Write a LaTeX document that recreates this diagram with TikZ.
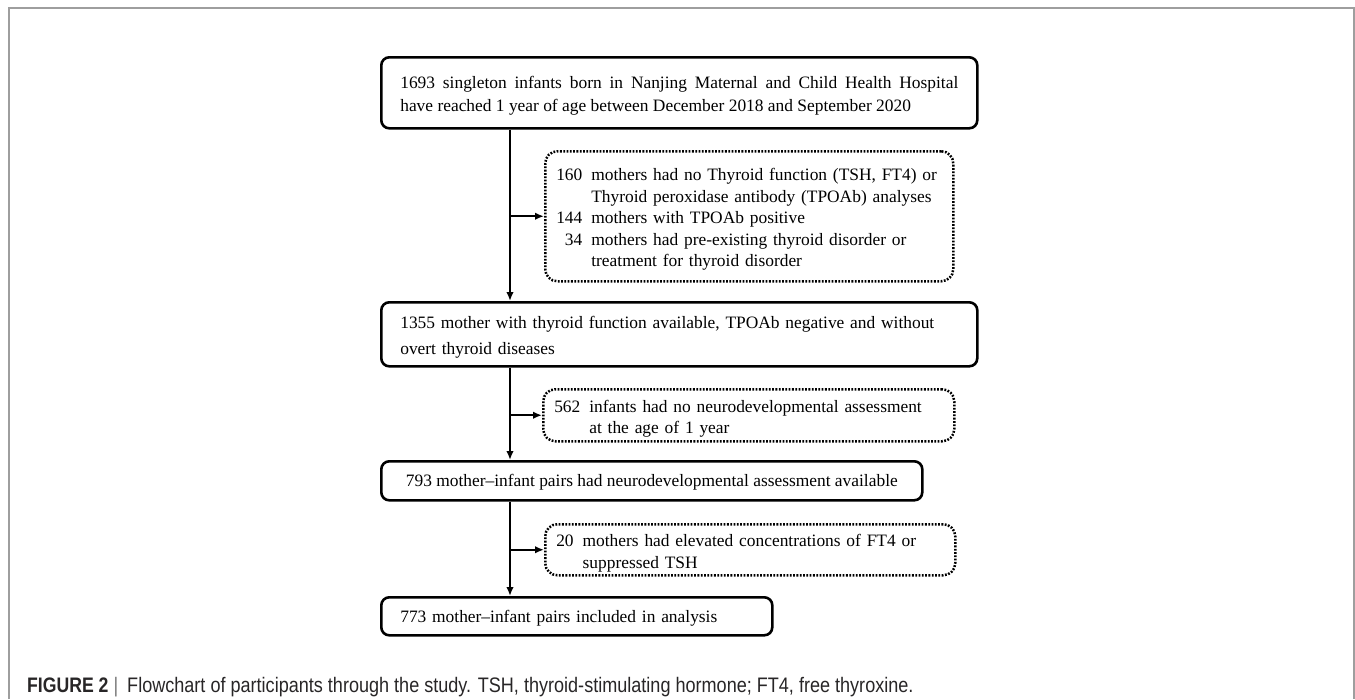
\documentclass[tikz,border=0pt]{standalone}
\usepackage{fontspec}
\setmainfont{Liberation Serif}
\newfontfamily\capfont[FakeStretch=0.86]{Liberation Sans}
\newfontfamily\capbold[FakeStretch=0.84]{Liberation Sans}
\usepackage{xcolor}
\usepackage{tikz}
\usetikzlibrary{positioning, calc, arrows.meta}
\definecolor{framegray}{RGB}{158,158,158}
\definecolor{captext}{RGB}{40,38,39}
\definecolor{bargray}{RGB}{120,120,120}
\newcommand{\topgap}[1]{\rule{0pt}{#1}}
\tikzset{
  stagebox/.style={draw, line width=2.6pt, rounded corners=8pt, anchor=north west,
    inner xsep=19pt, inner ysep=0pt, align=left, font=\fontsize{17.4}{26.7}\selectfont},
  exclbox/.style={draw, line width=2.5pt, dash pattern=on 1.8pt off 1.5pt, rounded corners=12pt,
    anchor=north west, inner xsep=11pt, inner ysep=0pt, align=left, font=\fontsize{17.4}{21.5}\selectfont},
  flow/.style={line width=2pt, ->, >={Latex[length=9pt, width=7.5pt]}}
}

\begin{document}
\begin{tikzpicture}[x=1pt, y=-1pt]
\useasboundingbox (0,0) rectangle (1355,699);
\draw[framegray, line width=1.3pt] (9,699) -- (9,8) -- (1354,8) -- (1354,699);

\coordinate (trunk) at (510,0);

\node[stagebox, text width=558pt, minimum height=71pt, align=justify,
      font=\fontsize{17.4}{23.5}\selectfont] (born) at (380,56)
  {\topgap{18pt}1693 singleton infants born in Nanjing Maternal and Child Health Hospital\linebreak
   have reached 1 year of age between December 2018 and September 2020};
\node[exclbox, text width=386pt, minimum height=130pt] (excl1) at (544,150)
  {\begin{tabular}{@{}r@{\hspace{9pt}}l@{}}
   \topgap{21.5pt}160 & mothers had no Thyroid function (TSH, FT4) or\\
       & Thyroid peroxidase antibody (TPOAb) analyses\\
   144 & mothers with TPOAb positive\\
   34  & mothers had pre-existing thyroid disorder or\\
       & treatment for thyroid disorder
   \end{tabular}};
\node[stagebox, text width=558pt, minimum height=64pt] (avail) at (380,301)
  {\topgap{18pt}1355 mother with thyroid function available, TPOAb negative and without\\
   overt thyroid diseases};
\node[exclbox, text width=389pt, minimum height=52pt] (excl2) at (542,388)
  {\begin{tabular}{@{}r@{\hspace{9pt}}l@{}}
   \topgap{21.5pt}562 & infants had no neurodevelopmental assessment\\
       & at the age of 1 year
   \end{tabular}};
\node[stagebox, minimum width=541pt, minimum height=39pt, text depth=0pt] (assessed) at (380,460)
  {793 mother--infant pairs had neurodevelopmental assessment available};
\node[exclbox, text width=388pt, minimum height=51pt] (excl3) at (544,523)
  {\begin{tabular}{@{}r@{\hspace{9pt}}l@{}}
   \topgap{21.5pt}20 & mothers had elevated concentrations of FT4 or\\
      & suppressed TSH
   \end{tabular}};
\node[stagebox, text width=353pt, minimum height=38pt, text depth=0pt] (included) at (380,596)
  {773 mother--infant pairs included in analysis};

\draw[flow] (born.south -| trunk) -- (avail.north -| trunk);
\draw[flow] (avail.south -| trunk) -- (assessed.north -| trunk);
\draw[flow] (assessed.south -| trunk) -- (included.north -| trunk);
\draw[flow] (trunk |- excl1.west) -- (excl1.west);
\draw[flow] (trunk |- excl2.west) -- (excl2.west);
\draw[flow] (trunk |- excl3.west) -- (excl3.west);

\node[anchor=base west, inner sep=0pt, text=captext, font=\capfont\fontsize{21}{25}\selectfont] (caption) at (27,692)
  {{\capbold\bfseries FIGURE 2}\hspace{5pt}{\color{bargray}|}\hspace{9pt}Flowchart of participants through the study. TSH, thyroid-stimulating hormone; FT4, free thyroxine.};
\end{tikzpicture}
\end{document}
